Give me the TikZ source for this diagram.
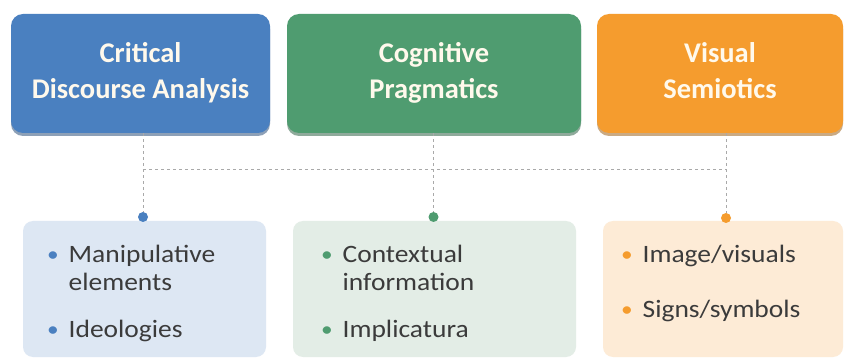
\documentclass[tikz,border=0pt]{standalone}
\usepackage{fontspec}
\setmainfont{Carlito}
\newfontfamily\listfont[FakeStretch=1.1]{Carlito}
\usetikzlibrary{positioning, calc, shadows}

\definecolor{cdaBlue}{HTML}{4A80C0}
\definecolor{cogGreen}{HTML}{4F9C70}
\definecolor{visOrange}{HTML}{F59C2E}
\definecolor{cdaLight}{HTML}{DDE7F3}
\definecolor{cogLight}{HTML}{E3EDE6}
\definecolor{visLight}{HTML}{FDEBD6}
\definecolor{linkGray}{HTML}{A9A9A9}
\definecolor{textGray}{HTML}{3B3B3B}
\definecolor{titleCream}{HTML}{FFF9EC}

\newcommand{\bul}[1]{\textcolor{#1}{\raisebox{0.12ex}{\scalebox{0.85}{\textbullet}}}}

\begin{document}
\begin{tikzpicture}[x=1pt, y=1pt,
  % Node styles
  topbox/.style={rounded corners=12pt, minimum height=119pt, align=center,
                 text=titleCream, font=\bfseries\fontsize{28.5}{36}\selectfont,
                 drop shadow={shadow xshift=0pt, shadow yshift=-3pt, fill=#1!65!black, opacity=0.55},
                 fill=#1},
  listbox/.style={rounded corners=10pt, minimum height=136pt, fill=#1},
  listtext/.style={anchor=north west, align=left, text=textGray, inner sep=0pt,
                   font=\listfont\fontsize{25}{28}\selectfont},
  dotnode/.style={circle, fill=#1, minimum size=10pt, inner sep=0pt},
  % Connector styles
  link/.style={draw=linkGray, dashed, dash pattern=on 3pt off 3pt, line width=0.9pt},
]
  \fill[white] (0,0) rectangle (844,-358);
  \useasboundingbox (0,0) rectangle (844,-358);

  % ── Row 1: approaches ──
  \node[topbox=cdaBlue, minimum width=259pt] (cda) at (140.5,-73.5) {\strut Critical\\Discourse Analysis\strut};
  \node[topbox=cogGreen, minimum width=294pt] (cog) at (434,-73.5) {\strut Cognitive\\Pragmatics\strut};
  \node[topbox=visOrange, minimum width=246pt] (vis) at (720,-73.5) {\strut Visual\\Semiotics\strut};

  % ── Row 2: contents ──
  \node[listbox=cdaLight, minimum width=243pt] (cdaList) at (144.5,-289) {};
  \node[listbox=cogLight, minimum width=283pt] (cogList) at (434.5,-289) {};
  \node[listbox=visLight, minimum width=240pt] (visList) at (723,-289) {};

  \node[listtext] (cdaItems) at ([xshift=24pt, yshift=-22pt]cdaList.north west)
    {\begin{tabular}{@{}l@{\hspace{10pt}}l@{}}
      \bul{cdaBlue} & Manipulative\\ & elements\\[19pt]
      \bul{cdaBlue} & Ideologies
     \end{tabular}};
  \node[listtext] (cogItems) at ([xshift=28pt, yshift=-22pt]cogList.north west)
    {\begin{tabular}{@{}l@{\hspace{10pt}}l@{}}
      \bul{cogGreen} & Contextual\\ & information\\[19pt]
      \bul{cogGreen} & Implicatura
     \end{tabular}};
  \node[listtext] (visItems) at ([xshift=18pt, yshift=-22pt]visList.north west)
    {\begin{tabular}{@{}l@{\hspace{10pt}}l@{}}
      \bul{visOrange} & Image/visuals\\[27pt]
      \bul{visOrange} & Signs/symbols
     \end{tabular}};

  % ── Dots on the list boxes ──
  \node[dotnode=cdaBlue] (cdaDot) at (143,-217) {};
  \node[dotnode=cogGreen] (cogDot) at (433.5,-217) {};
  \node[dotnode=visOrange] (visDot) at (726,-218) {};

  % ── Dashed links ──
  \coordinate (bus) at (0,-169);
  \draw[link] (cda.south -| cdaDot) -- (cdaDot);
  \draw[link] (cog.south -| cogDot) -- (cogDot);
  \draw[link] (vis.south -| visDot) -- (visDot);
  \draw[link] (bus -| cdaDot) -- (bus -| visDot);
\end{tikzpicture}
\end{document}
